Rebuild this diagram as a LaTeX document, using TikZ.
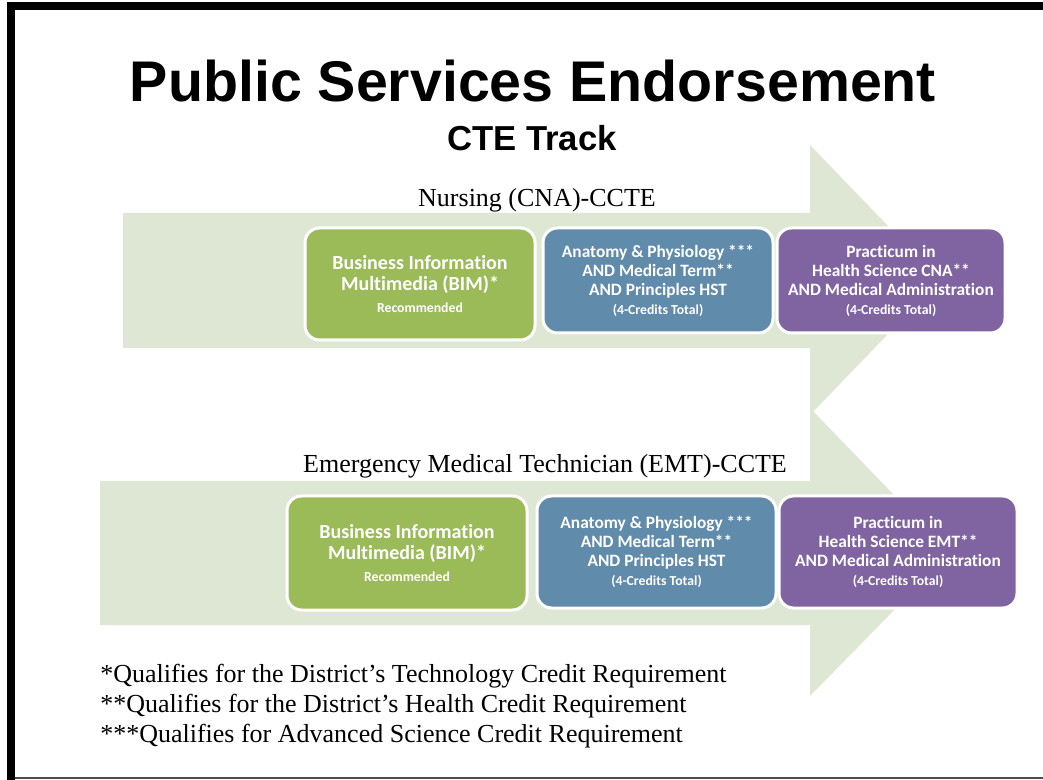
\documentclass[tikz,border=0pt]{standalone}
\usepackage{fontspec}
\setmainfont{Liberation Serif}
\setsansfont{Carlito}[Ligatures=NoCommon]
\newfontfamily\titlefont{Liberation Sans}
\definecolor{arrowgreen}{RGB}{222,231,211}
\definecolor{boxgreen}{RGB}{155,187,89}
\definecolor{boxblue}{RGB}{96,139,170}
\definecolor{boxpurple}{RGB}{128,100,162}
\newcommand{\smalltxt}[1]{{\fontsize{10.3}{12}\selectfont #1}}
\tikzset{
  arrowbg/.style={fill=arrowgreen},
  stepbox/.style={rounded corners=11pt, draw=white, line width=2.25pt, text=white,
    align=center, inner sep=0pt,
    font=\sffamily\bfseries\fontsize{13}{14.25}\selectfont},
  greenbox/.style={stepbox, fill=boxgreen, font=\sffamily\bfseries\fontsize{15}{16.3}\selectfont},
  bluebox/.style={stepbox, fill=boxblue},
  purplebox/.style={stepbox, fill=boxpurple},
  tracklabel/.style={anchor=base, inner sep=0pt, font=\fontsize{19.5}{23}\selectfont},
  footnote/.style={anchor=base west, inner sep=0pt, font=\fontsize{19.5}{23}\selectfont}
}
\begin{document}
\begin{tikzpicture}[x=0.75pt,y=-0.75pt]
\useasboundingbox (0,0) rectangle (1043,780);
% frame
\fill[black] (7,2) rectangle (1043,10);
\fill[black] (7,2) rectangle (15,780);
\fill[black!70] (15,777) rectangle (1043,779);
% arrows
\fill[arrowbg] (123,213) -- (810,213) -- (810,145) -- (940,280) -- (810,415) -- (810,348) -- (123,348) -- cycle;
\fill[arrowbg] (100,481) -- (810,481) -- (810,408) -- (950,553) -- (810,696) -- (810,625) -- (100,625) -- cycle;
% titles
\node[anchor=base, inner sep=0pt, font=\titlefont\bfseries\fontsize{43}{50}\selectfont] (title) at (533,102) {Public Services Endorsement};
\node[anchor=base, inner sep=0pt, font=\titlefont\bfseries\fontsize{26}{30}\selectfont] (subtitle) at (532,151) {CTE Track};
\node[tracklabel] (lab1) at (537,207) {Nursing (CNA)-CCTE};
\node[tracklabel] (lab2) at (545,473) {Emergency Medical Technician (EMT)-CCTE};
% row 1
\node[greenbox, minimum width=230*0.75pt, minimum height=112*0.75pt] (g1) at (420,284)
  {Business Information\\Multimedia (BIM)*\\\smalltxt{Recommended}};
\node[bluebox, minimum width=230*0.75pt, minimum height=105*0.75pt] (b1) at (658,280.5)
  {Anatomy \& Physiology ***\\AND Medical Term**\\AND Principles HST\\\smalltxt{(4-Credits Total)}};
\node[purplebox, minimum width=228*0.75pt, minimum height=105*0.75pt] (p1) at (891,280.5)
  {Practicum in\\Health Science CNA**\\AND Medical Administration\\\smalltxt{(4-Credits Total)}};
% row 2
\node[greenbox, minimum width=240*0.75pt, minimum height=114*0.75pt] (g2) at (407,553)
  {Business Information\\Multimedia (BIM)*\\\smalltxt{Recommended}};
\node[bluebox, minimum width=239*0.75pt, minimum height=112*0.75pt] (b2) at (656.5,552)
  {Anatomy \& Physiology ***\\AND Medical Term**\\AND Principles HST\\\smalltxt{(4-Credits Total)}};
\node[purplebox, minimum width=238*0.75pt, minimum height=112*0.75pt] (p2) at (898,552)
  {Practicum in\\Health Science EMT**\\AND Medical Administration\\\smalltxt{(4-Credits Total)}};
% footnotes
\node[footnote] (fn1) at (100,682) {*Qualifies for the District’s Technology Credit Requirement};
\node[footnote] (fn2) at (100,712) {**Qualifies for the District’s Health Credit Requirement};
\node[footnote] (fn3) at (100,742) {***Qualifies for Advanced Science Credit Requirement};
\end{tikzpicture}
\end{document}
